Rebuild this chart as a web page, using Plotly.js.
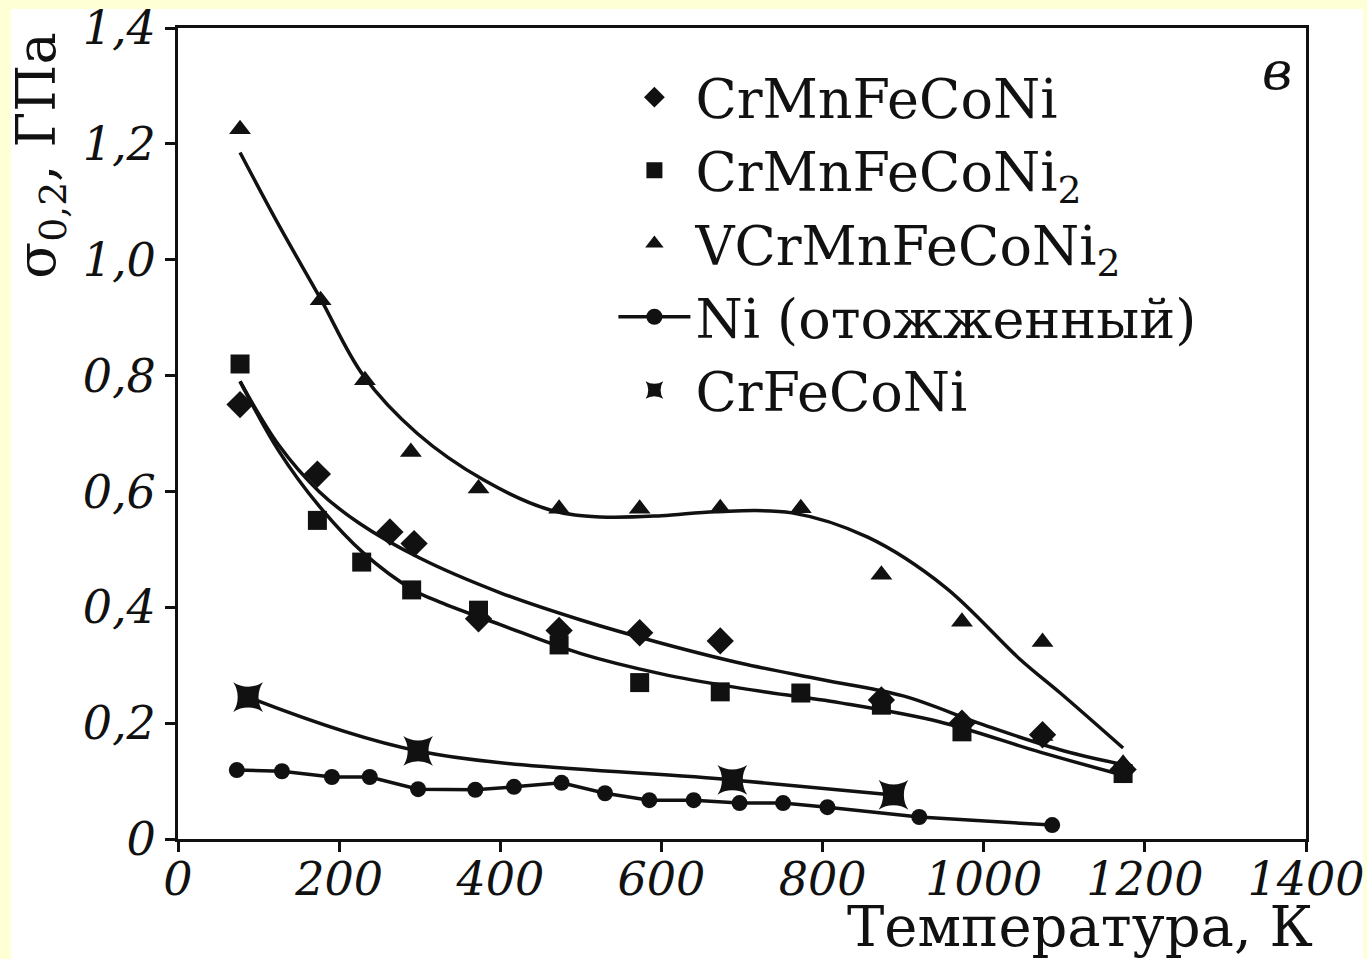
<!DOCTYPE html>
<html><head><meta charset="utf-8">
<script src="https://cdn.plot.ly/plotly-3.0.1.min.js"></script>
<style>
html,body{margin:0;padding:0;background:#FFFFD6;width:1367px;height:959px;overflow:hidden;}
#sheet{position:absolute;left:11px;top:9px;width:1352px;height:950px;background:#ffffff;}
#chart{position:absolute;left:0;top:0;width:1367px;height:959px;}
</style></head><body><div id="sheet"></div><div id="chart"></div>
<script>
// Measured points
const T_CrMnFeCoNi = [77, 173, 263, 293, 373, 473, 573, 673, 873, 973, 1073, 1173];
const S_CrMnFeCoNi = [0.75, 0.63, 0.53, 0.51, 0.38, 0.36, 0.356, 0.342, 0.24, 0.20, 0.18, 0.12];

const T_CrMnFeCoNi2 = [77, 173, 228, 290, 373, 473, 573, 673, 773, 873, 973, 1173];
const S_CrMnFeCoNi2 = [0.82, 0.55, 0.478, 0.43, 0.395, 0.335, 0.27, 0.254, 0.252, 0.231, 0.185, 0.113];

const T_VCrMnFeCoNi2 = [77, 177, 232, 289, 373, 473, 573, 673, 773, 873, 973, 1073, 1073, 1173];
const S_VCrMnFeCoNi2 = [1.225, 0.93, 0.792, 0.668, 0.605, 0.57, 0.57, 0.571, 0.571, 0.456, 0.375, 0.34, 0.178, 0.13];

const T_Ni = [73, 129, 191, 238, 298, 369, 417, 476, 530, 585, 640, 697, 751, 806, 920, 1085];
const S_Ni = [0.119, 0.117, 0.107, 0.107, 0.086, 0.085, 0.090, 0.097, 0.079, 0.067, 0.067, 0.062, 0.062, 0.055, 0.038, 0.024];

const T_CrFeCoNi = [87, 298, 688, 888];
const S_CrFeCoNi = [0.245, 0.152, 0.102, 0.076];

// Fitted curves
const T_fit_CrMnFeCoNi = [77, 125, 175, 225, 300, 400, 500, 600, 700, 800, 900, 1000, 1100, 1175];
const S_fit_CrMnFeCoNi = [0.79, 0.68, 0.60, 0.545, 0.485, 0.425, 0.378, 0.338, 0.303, 0.275, 0.247, 0.197, 0.152, 0.128];

const T_fit_CrMnFeCoNi2 = [77, 125, 175, 230, 292, 325, 400, 500, 600, 700, 822, 946, 1070, 1173];
const S_fit_CrMnFeCoNi2 = [0.79, 0.67, 0.575, 0.494, 0.43, 0.409, 0.37, 0.32, 0.285, 0.26, 0.235, 0.202, 0.15, 0.11];

const T_fit_VCrMnFeCoNi2 = [77, 125, 176, 230, 297, 379, 462, 524, 600, 667, 762, 856, 952, 1046, 1095, 1173];
const S_fit_VCrMnFeCoNi2 = [1.185, 1.06, 0.935, 0.80, 0.70, 0.62, 0.568, 0.556, 0.558, 0.565, 0.563, 0.521, 0.435, 0.309, 0.252, 0.157];

// Tick labels
const yTickVals = [0, 0.2, 0.4, 0.6, 0.8, 1.0, 1.2, 1.4];
const yTickText = ['0', '0,2', '0,4', '0,6', '0,8', '1,0', '1,2', '1,4'];
const xTickVals = [0, 200, 400, 600, 800, 1000, 1200, 1400];
const xTickText = ['0', '200', '400', '600', '800', '1000', '1200', '1400'];

const names = ['CrMnFeCoNi', 'CrMnFeCoNi<sub>2</sub>', 'VCrMnFeCoNi<sub>2</sub>', 'Ni (отожженный)', 'CrFeCoNi'];

const INK = '#111111';
const SERIF = 'DejaVu Serif';
const fitLine = {color: INK, width: 3.5, shape: 'spline', smoothing: 1.0};

const traces = [
  {x: T_fit_CrMnFeCoNi, y: S_fit_CrMnFeCoNi, mode: 'lines', line: fitLine, showlegend: false, hoverinfo: 'skip'},
  {x: T_fit_CrMnFeCoNi2, y: S_fit_CrMnFeCoNi2, mode: 'lines', line: fitLine, showlegend: false, hoverinfo: 'skip'},
  {x: T_fit_VCrMnFeCoNi2, y: S_fit_VCrMnFeCoNi2, mode: 'lines', line: fitLine, showlegend: false, hoverinfo: 'skip'},
  {x: T_CrFeCoNi, y: S_CrFeCoNi, mode: 'lines', line: fitLine, showlegend: false, hoverinfo: 'skip'},
  {x: T_CrMnFeCoNi, y: S_CrMnFeCoNi, mode: 'markers', name: names[0], legendgroup: 'a',
   marker: {symbol: 'diamond', size: 21, color: INK}},
  {x: T_CrMnFeCoNi2, y: S_CrMnFeCoNi2, mode: 'markers', name: names[1], legendgroup: 'b',
   marker: {symbol: 'square', size: 19, color: INK}},
  {x: T_VCrMnFeCoNi2, y: S_VCrMnFeCoNi2, mode: 'markers', name: names[2], legendgroup: 'c',
   marker: {symbol: 'triangle-up', size: 19, color: INK}},
  {x: T_Ni, y: S_Ni, mode: 'lines+markers', name: names[3], legendgroup: 'd',
   line: {color: INK, width: 3.5}, marker: {symbol: 'circle', size: 16, color: INK}},
  {x: T_CrFeCoNi, y: S_CrFeCoNi, mode: 'markers', name: names[4], legendgroup: 'e',
   marker: {symbol: 'star-square', size: 27, color: INK}}
];

const axisCommon = {
  showgrid: false, zeroline: false, showline: true, mirror: true,
  linecolor: INK, linewidth: 3, ticks: 'outside', ticklen: 10, tickwidth: 3, tickcolor: INK,
  tickmode: 'array', ticklabeloverflow: 'allow',
  tickfont: {family: SERIF, size: 46, color: INK, style: 'italic'}
};

const layout = {
  width: 1367, height: 959,
  margin: {l: 178, r: 61, t: 28, b: 120},
  paper_bgcolor: 'rgba(0,0,0,0)', plot_bgcolor: '#ffffff',
  xaxis: Object.assign({}, axisCommon, {range: [0, 1400], tickvals: xTickVals, ticktext: xTickText, ticklabelstandoff: -12}),
  yaxis: Object.assign({}, axisCommon, {range: [0, 1.4], tickvals: yTickVals, ticktext: yTickText}),
  showlegend: true,
  legend: {
    x: 0.386, y: 0.966, xanchor: 'left', yanchor: 'top',
    bgcolor: 'rgba(0,0,0,0)', borderwidth: 0,
    font: {family: SERIF, size: 54, color: INK},
    traceorder: 'grouped', tracegroupgap: 0, itemwidth: 72
  },
  annotations: [
    {xref: 'paper', yref: 'paper', x: -0.122, y: 0.843, xanchor: 'center', yanchor: 'middle',
     text: 'σ<sub>0,2</sub>, ГПа', textangle: -90, showarrow: false,
     font: {family: SERIF, size: 54, color: INK}},
    {xref: 'paper', yref: 'paper', x: 1.008, y: -0.108, xanchor: 'right', yanchor: 'middle',
     text: 'Температура, К', showarrow: false,
     font: {family: SERIF, size: 56, color: INK}},
    {xref: 'paper', yref: 'paper', x: 0.974, y: 0.947, xanchor: 'center', yanchor: 'middle',
     text: 'в', showarrow: false,
     font: {family: SERIF, size: 52, color: INK, style: 'italic'}}
  ]
};

Plotly.newPlot('chart', traces, layout, {displayModeBar: false, staticPlot: true});
</script></body></html>
